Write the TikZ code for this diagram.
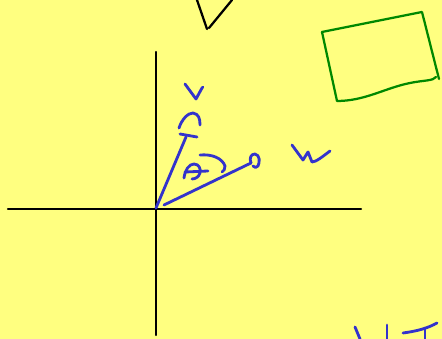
\documentclass[tikz,border=0pt]{standalone}
\usepackage{amsmath}
\usepackage{tikz}

\definecolor{padyellow}{RGB}{255,255,128}
\definecolor{penblue}{RGB}{51,51,204}
\definecolor{pengreen}{RGB}{0,136,0}

\begin{document}
\begin{tikzpicture}[x=0.025cm, y=-0.025cm, line cap=round, line join=round]
            % Nền giấy
            \fill[padyellow] (0,0) rectangle (442,339);
            \useasboundingbox (0,0) rectangle (442,339);
            
            \coordinate (O) at (156,208);
            \coordinate (V) at (186,137);
            \coordinate (W) at (251,163);
            
            % Hai trục
            \draw[line width=1.6pt] (8,209) -- (361,209);
            \draw[line width=1.6pt] (156,52) -- (156,335);
            
            % Nét đen phía trên
            \draw[line width=1.6pt] (197,0) -- (207,29);
            \draw[line width=1.6pt] (209,28) -- (232,0);
            
            % Tứ giác xanh lá
            \draw[pengreen, line width=1.6pt] (322,32) -- (422,12) -- (439,79);
            \draw[pengreen, line width=1.6pt] (322,32) -- (337,101)
                .. controls (365,101) and (385,88) .. (410,83)
                .. controls (425,80) and (433,81) .. (436,77);
            
            % Vectơ v
            \draw[penblue, line width=2pt] (O) -- (V);
            \draw[penblue, line width=2pt] (180,134) -- (197,137);
            \draw[penblue, line width=2pt] (179,128)
                .. controls (182,119) and (188,113) .. (193,113)
                .. controls (199,114) and (200,119) .. (200,125);
            \draw[penblue, line width=2pt] (185,84) -- (196,99) -- (202,88) -- (203,87);
            
            % Vectơ w
            \draw[penblue, line width=2pt] (164,205) -- (W);
            \draw[penblue, line width=2pt] (W)
                .. controls (249,158) and (251,154) .. (255,154)
                .. controls (260,155) and (260,162) .. (258,166)
                .. controls (257,168) and (254,168) .. (253,166);
            \draw[penblue, line width=2pt] (292,145) -- (303,160) -- (308,152) -- (312,162)
                .. controls (316,162) and (322,157) .. (330,151);
            
            % Góc theta
            \draw[penblue, line width=2pt] (200,155)
                .. controls (212,154) and (222,158) .. (225,166)
                .. controls (225,169) and (224,171) .. (222,172);
            \draw[penblue, line width=2pt] (184,178)
                .. controls (185,170) and (189,164) .. (194,164)
                .. controls (199,164) and (201,169) .. (200,173)
                .. controls (199,177) and (195,179) .. (192,179);
            \draw[penblue, line width=2pt] (185,172) -- (208,171);
            
            % Nét xanh góc dưới
            \draw[penblue, line width=2pt] (355,327) -- (360,339);
            \draw[penblue, line width=2pt] (387,325) -- (387,339);
            \draw[penblue, line width=2pt] (403,333) .. controls (418,331) and (428,328) .. (437,323);
            \draw[penblue, line width=2pt] (425,328) -- (425,339);
        \end{tikzpicture}
\end{document}
